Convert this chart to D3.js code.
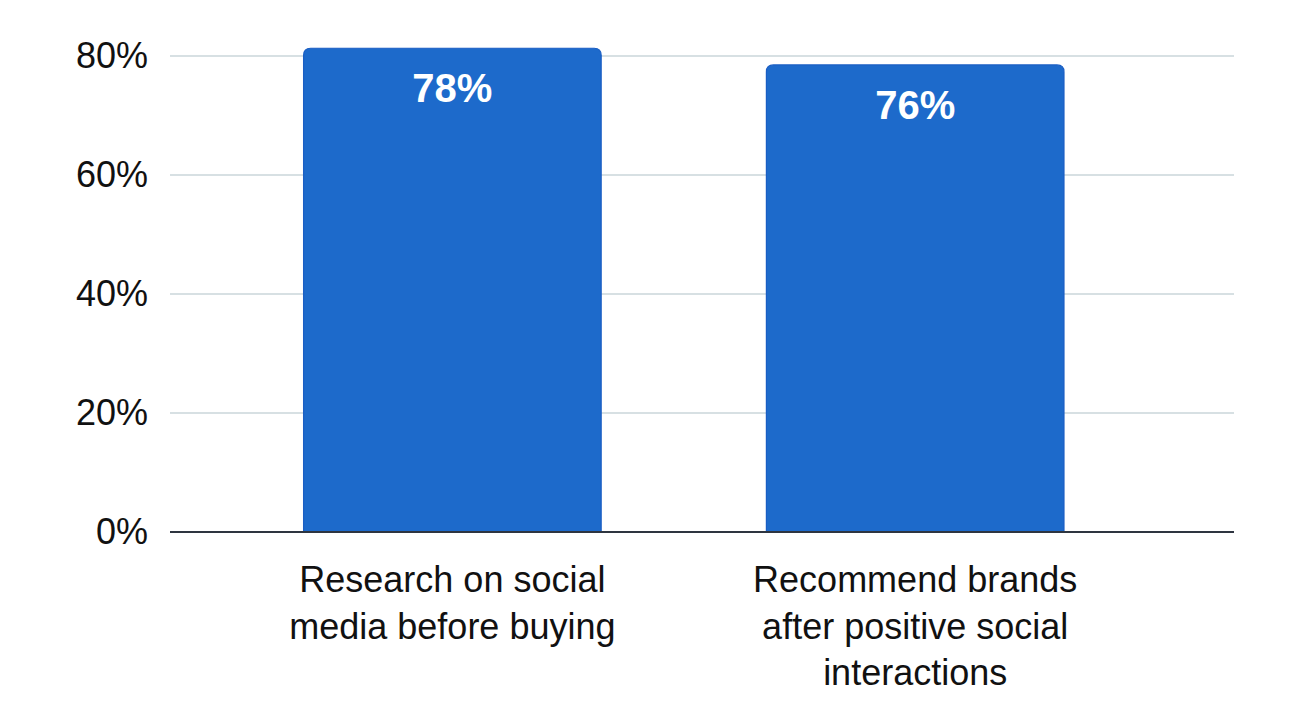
<!DOCTYPE html>
<html>
<head>
<meta charset="utf-8">
<script src="https://cdn.jsdelivr.net/npm/d3@7"></script>
<style>
  html, body { margin: 0; padding: 0; background: #ffffff; }
</style>
</head>
<body>
<div id="chart"></div>
<script>
// Chart data
const categories = [
  ["Research on social", "media before buying"],
  ["Recommend brands", "after positive social", "interactions"]
];
const barValues = [81.3, 78.5];       // bar heights as drawn
const barLabels = ["78%", "76%"];     // labels printed on the bars
const yTicks = [0, 20, 40, 60, 80];

// Dimensions
const width = 1312;
const height = 714;
const margin = { top: 56, right: 78, bottom: 182, left: 170 };
const innerWidth = width - margin.left - margin.right;
const innerHeight = height - margin.top - margin.bottom;

const svg = d3.select("#chart")
  .append("svg")
  .attr("width", width)
  .attr("height", height)
  .append("g")
  .attr("transform", `translate(${margin.left},${margin.top})`);

// Scales
const x = d3.scaleBand()
  .domain(d3.range(categories.length))
  .range([0, innerWidth])
  .paddingInner(0.357)
  .paddingOuter(0.328)
  .align(0.44);

const y = d3.scaleLinear()
  .domain([0, 80])
  .range([innerHeight, 0]);

// Gridlines
svg.append("g")
  .selectAll("line")
  .data(yTicks.filter(d => d > 0))
  .enter()
  .append("line")
  .attr("x1", 0)
  .attr("x2", innerWidth)
  .attr("y1", d => y(d))
  .attr("y2", d => y(d))
  .attr("stroke", "#d7e0e3")
  .attr("stroke-width", 2);

// Y axis labels
const yAxis = svg.append("g")
  .call(d3.axisLeft(y).tickValues(yTicks).tickFormat(d => d + "%").tickSize(0).tickPadding(22));
yAxis.select(".domain").remove();
yAxis.selectAll("text")
  .attr("font-family", "'Liberation Sans', Arial, sans-serif")
  .attr("font-size", "36px")
  .attr("fill", "#111");

// Bars with rounded top corners
const r = 7;
svg.append("g")
  .selectAll("path")
  .data(barValues)
  .enter()
  .append("path")
  .attr("d", (d, i) => {
    const x0 = x(i), x1 = x(i) + x.bandwidth();
    const yt = y(d), yb = y(0);
    return `M${x0},${yb}V${yt + r}Q${x0},${yt} ${x0 + r},${yt}H${x1 - r}Q${x1},${yt} ${x1},${yt + r}V${yb}Z`;
  })
  .attr("fill", "#1d6acb")
  .attr("stroke", "#1a5ec4")
  .attr("stroke-width", 1.2);

// Value labels
svg.append("g")
  .selectAll("text")
  .data(barValues)
  .enter()
  .append("text")
  .attr("x", (d, i) => x(i) + x.bandwidth() / 2)
  .attr("y", d => y(d) + 54)
  .attr("text-anchor", "middle")
  .attr("font-family", "'Liberation Sans', Arial, sans-serif")
  .attr("font-weight", "bold")
  .attr("font-size", "40px")
  .attr("fill", "#ffffff")
  .text((d, i) => barLabels[i]);

// Baseline
svg.append("line")
  .attr("x1", 0)
  .attr("x2", innerWidth)
  .attr("y1", y(0))
  .attr("y2", y(0))
  .attr("stroke", "#2e3540")
  .attr("stroke-width", 2);

// Category labels (multi-line)
const catLabels = svg.append("g")
  .selectAll("text")
  .data(categories)
  .enter()
  .append("text")
  .attr("x", (d, i) => x(i) + x.bandwidth() / 2)
  .attr("y", innerHeight + 60)
  .attr("text-anchor", "middle")
  .attr("font-family", "'Liberation Sans', Arial, sans-serif")
  .attr("font-size", "36px")
  .attr("fill", "#111");

catLabels.selectAll("tspan")
  .data(d => d)
  .enter()
  .append("tspan")
  .attr("x", function () { return d3.select(this.parentNode).attr("x"); })
  .attr("dy", (d, i) => i === 0 ? 0 : 46.5)
  .text(d => d);
</script>
</body>
</html>
